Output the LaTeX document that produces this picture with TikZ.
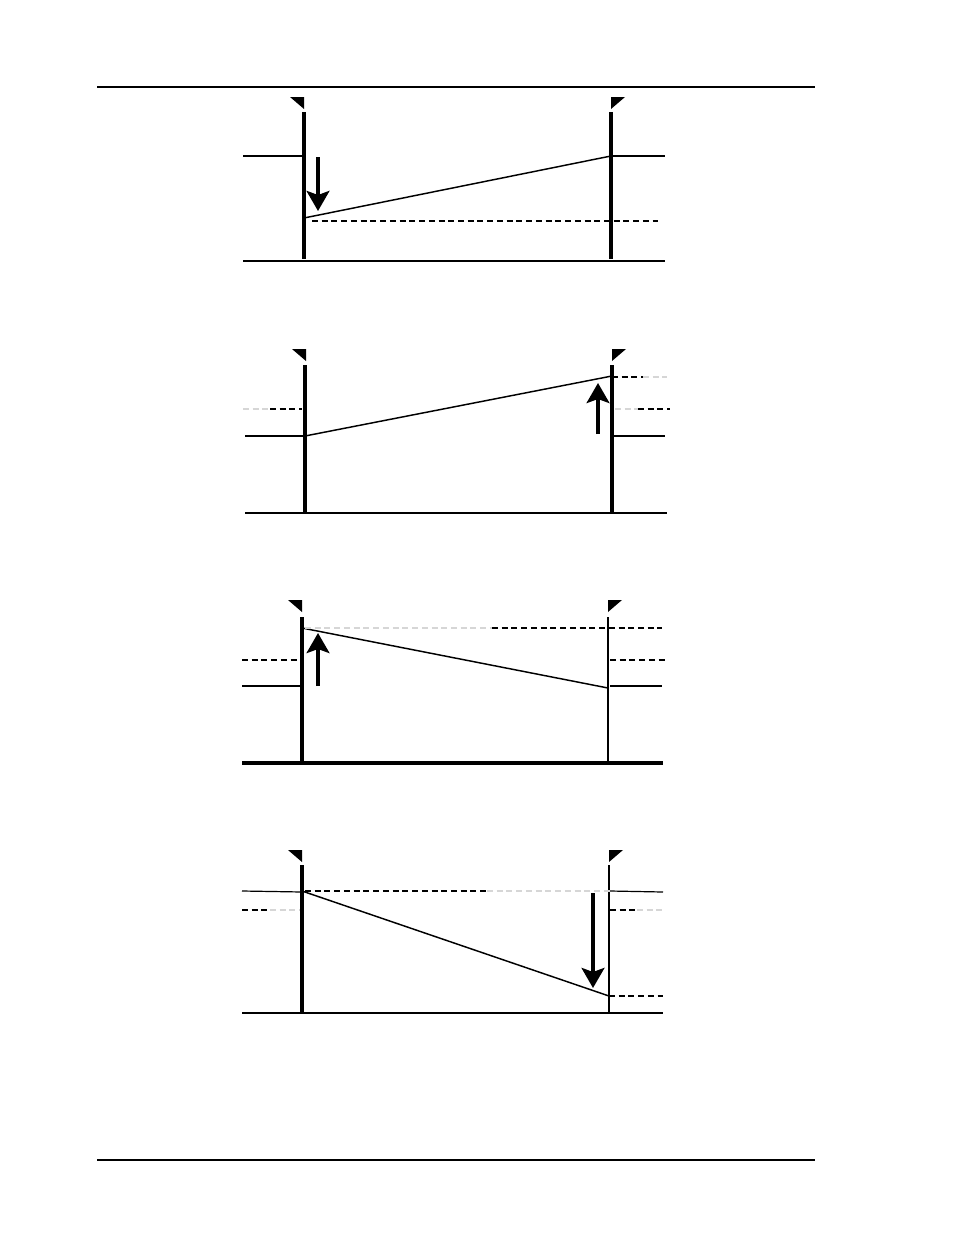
\documentclass[tikz,border=0pt]{standalone}
\usetikzlibrary{arrows.meta}
\definecolor{fade}{HTML}{D6D6D6}
\tikzset{
  pole/.style={line width=2.6pt},
  thinpole/.style={line width=1pt},
  ground/.style={line width=1.3pt},
  level/.style={line width=0.9pt},
  grade/.style={line width=1.1pt},
  lvl/.style={line width=1pt, dash pattern=on 4.5pt off 2.8pt},
  faded/.style={lvl, draw=fade},
  bigarrow/.style={line width=3.4pt, -{Stealth[length=15pt,width=17pt,inset=3pt]}},
  pagerule/.style={line width=1.1pt},
}
\newcommand{\leftflag}[2]{\fill (#1-14,#2) -- (#1,#2) -- (#1,#2+12) -- cycle;}
\newcommand{\rightflag}[2]{\fill (#1,#2) -- (#1+14,#2) -- (#1,#2+12) -- cycle;}

\begin{document}
\begin{tikzpicture}[x=0.75pt, y=-0.75pt]
  \useasboundingbox[fill=white] (0,0) rectangle (954,1235);
  \draw[pagerule] (97,87) -- (815,87);
  \draw[pagerule] (97,1160) -- (815,1160);

  % first stage
  \leftflag{304}{97}
  \rightflag{611}{97}
  \draw[pole] (304,112) -- (304,259);
  \draw[pole] (611,112) -- (611,259);
  \draw[ground] (243,261) -- (665,261);
  \draw[level] (243,156) -- (304,156);
  \draw[level] (611,156) -- (665,156);
  \draw[grade] (304,218) -- (611,156);
  \draw[lvl] (312,221) -- (658,221);
  \draw[bigarrow] (318,157) -- (318,211);

  % second stage
  \leftflag{306}{349}
  \rightflag{612}{349}
  \draw[pole] (305,365) -- (305,512);
  \draw[pole] (612,365) -- (612,512);
  \draw[ground, line width=1.7pt] (245,513) -- (667,513);
  \draw[level] (245,436) -- (305,436);
  \draw[level] (614,436) -- (665,436);
  \draw[grade] (305,436) -- (612,376);
  \draw[faded] (243,409) -- (270,409);
  \draw[lvl] (270,409) -- (302,409);
  \draw[lvl] (612,377) -- (643,377);
  \draw[faded] (643,377) -- (667,377);
  \draw[faded] (615,409) -- (638,409);
  \draw[lvl] (638,409) -- (670,409);
  \draw[bigarrow] (598,434) -- (598,383);

  % third stage
  \leftflag{302}{600}
  \rightflag{608}{600}
  \draw[pole] (302,617) -- (302,762);
  \draw[thinpole] (608,617) -- (608,762);
  \draw[ground, line width=2.3pt] (242,763) -- (663,763);
  \draw[level] (242,686) -- (301,686);
  \draw[level] (610,686) -- (662,686);
  \draw[grade] (302,628) -- (608,688);
  \draw[faded] (305,628) -- (492,628);
  \draw[lvl] (492,628) -- (662,628);
  \draw[lvl] (242,660) -- (300,660);
  \draw[lvl] (610,660) -- (665,660);
  \draw[bigarrow] (318,686) -- (318,633);

  % fourth stage
  \leftflag{302}{850}
  \rightflag{609}{850}
  \draw[pole] (302,865) -- (302,1012);
  \draw[thinpole] (609,865) -- (609,1012);
  \draw[ground, line width=1.7pt] (242,1013) -- (663,1013);
  \draw[level] (242,891) -- (302,892);
  \draw[level] (610,891) -- (663,892);
  \draw[lvl] (305,891) -- (487,891);
  \draw[faded] (487,891) -- (610,891);
  \draw[lvl] (242,910) -- (270,910);
  \draw[faded] (270,910) -- (300,910);
  \draw[lvl] (610,910) -- (637,910);
  \draw[faded] (637,910) -- (663,910);
  \draw[grade] (302,891) -- (609,996);
  \draw[lvl] (609,996) -- (663,996);
  \draw[bigarrow] (593,893) -- (593,988);
\end{tikzpicture}
\end{document}
